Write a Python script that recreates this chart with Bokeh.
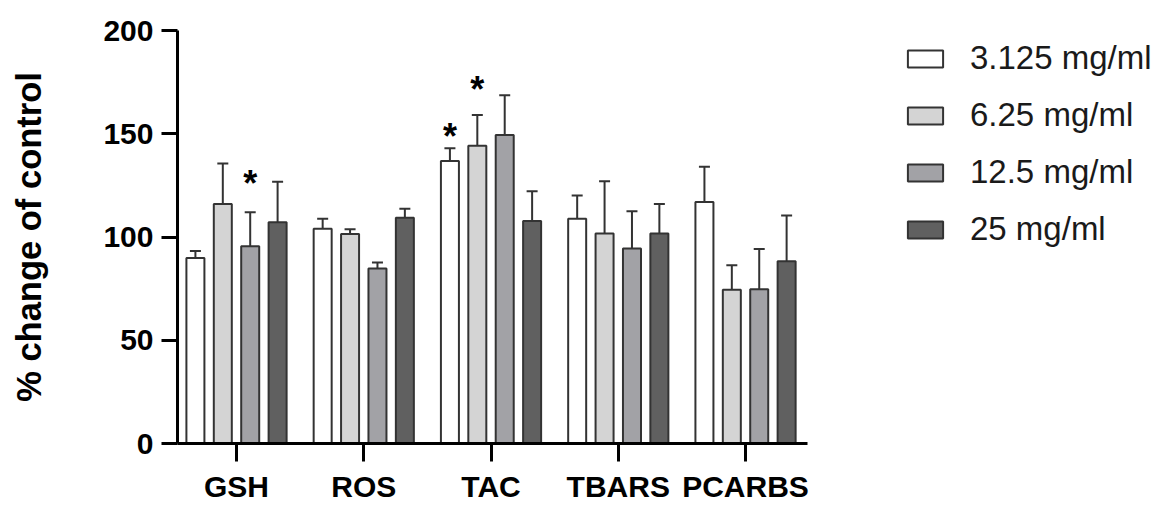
from bokeh.plotting import figure
from bokeh.models import FixedTicker, Legend, LegendItem, ColumnDataSource, Range1d
from bokeh.layouts import row
from bokeh.embed import file_html
from bokeh.resources import INLINE
from bokeh.core.properties import value

categories = ["GSH", "ROS", "TAC", "TBARS", "PCARBS"]
series_names = ["3.125 mg/ml", "6.25 mg/ml", "12.5 mg/ml", "25 mg/ml"]
series_colors = ["#ffffff", "#d4d4d4", "#a2a2a6", "#606060"]

mean_3125 = [89.8, 104.0, 136.8, 108.8, 116.9]
err_3125 = [3.4, 4.8, 6.2, 11.3, 17.1]
mean_625 = [116.0, 101.5, 144.2, 101.7, 74.4]
err_625 = [19.6, 2.2, 14.9, 25.3, 11.9]
mean_125 = [95.5, 84.7, 149.4, 94.4, 74.7]
err_125 = [16.5, 3.0, 19.3, 18.1, 19.5]
mean_25 = [107.2, 109.3, 107.7, 101.7, 88.2]
err_25 = [19.6, 4.4, 14.4, 14.3, 22.2]

# significance stars: category index, series index, centre value
star_cat = [0, 2, 2]
star_series = [2, 0, 1]
star_y = [125.9, 148.9, 171.2]

y_ticks = [0, 50, 100, 150, 200]

means = [mean_3125, mean_625, mean_125, mean_25]
errs = [err_3125, err_625, err_125, err_25]

pitch = 0.2153
bar_w = 0.1415
offsets = [(j - 1.5) * pitch for j in range(4)]

FONT = "Liberation Sans"
EDGE = "#333333"

p = figure(width=817, height=505, x_range=(-0.4637, 4.487), y_range=(0, 200),
           output_backend="svg", toolbar_location=None,
           min_border_left=177, min_border_right=10, min_border_top=30, min_border_bottom=60)

sources = []
for j in range(4):
    xs = [i + offsets[j] for i in range(len(categories))]
    tops = [m + e for m, e in zip(means[j], errs[j])]
    src = ColumnDataSource(dict(x=xs, top=means[j], etop=tops))
    sources.append(src)
    p.segment(x0="x", y0="top", x1="x", y1="etop", source=src, line_color=EDGE, line_width=2)
    p.scatter(x="x", y="etop", source=src, marker="dash", size=11, line_color=EDGE, line_width=2)
    p.vbar(x="x", top="top", bottom=0, width=bar_w, source=src,
           fill_color=series_colors[j], line_color=EDGE, line_width=2)

sx = [c + offsets[s] for c, s in zip(star_cat, star_series)]
p.text(x=sx, y=star_y, text=["*"] * len(sx), text_align="center", text_baseline="middle",
       text_font=value(FONT), text_font_style="bold", text_font_size="36px", text_color="#000000")

p.xgrid.visible = False
p.ygrid.visible = False
p.outline_line_color = None

p.yaxis.ticker = FixedTicker(ticks=y_ticks)
p.yaxis.minor_tick_line_color = None
p.yaxis.major_tick_in = 0
p.yaxis.major_tick_out = 16
p.yaxis.major_tick_line_width = 3
p.yaxis.axis_line_width = 3
p.yaxis.major_label_standoff = 8
p.yaxis.major_label_text_font = FONT
p.yaxis.major_label_text_font_style = "bold"
p.yaxis.major_label_text_font_size = "30px"
p.yaxis.major_label_text_color = "#000000"
p.yaxis.axis_label = "% change of control"
p.yaxis.axis_label_text_font = FONT
p.yaxis.axis_label_text_font_style = "bold"
p.yaxis.axis_label_text_font_size = "34.5px"
p.yaxis.axis_label_text_color = "#000000"
p.yaxis.axis_label_standoff = 52

p.xaxis.ticker = FixedTicker(ticks=list(range(len(categories))))
p.xaxis.major_label_overrides = {i: c for i, c in enumerate(categories)}
p.xaxis.minor_tick_line_color = None
p.xaxis.major_tick_in = 0
p.xaxis.major_tick_out = 18
p.xaxis.major_tick_line_width = 3
p.xaxis.axis_line_width = 3
p.xaxis.major_label_standoff = 8
p.xaxis.major_label_text_font = FONT
p.xaxis.major_label_text_font_style = "bold"
p.xaxis.major_label_text_font_size = "30px"
p.xaxis.major_label_text_color = "#000000"

# legend panel: hidden copies of the bar renderers, used only for the legend swatches
lp = figure(width=348, height=505, x_range=Range1d(0, 1), y_range=Range1d(0, 1),
            x_axis_type=None, y_axis_type=None,
            output_backend="svg", toolbar_location=None,
            min_border_left=0, min_border_right=0, min_border_top=30, min_border_bottom=60)
lp.grid.visible = False
lp.outline_line_color = None
items = []
for name, col, src in zip(series_names, series_colors, sources):
    r = lp.vbar(x="x", top="top", bottom=0, width=bar_w, source=src,
                fill_color=col, line_color=EDGE, line_width=2)
    r.visible = False
    items.append(LegendItem(label=name, renderers=[r]))

legend = Legend(items=items, location=(86, 195), orientation="vertical")
legend.glyph_width = 44
legend.glyph_height = 21
legend.label_standoff = 23
legend.spacing = 19
legend.padding = 0
legend.margin = 0
legend.border_line_color = None
legend.background_fill_alpha = 0
legend.inactive_fill_alpha = 0
legend.label_text_font = FONT
legend.label_text_font_size = "33px"
legend.label_text_color = "#1a1a1a"
lp.add_layout(legend, "center")

layout = row(p, lp)
open("out.html", "w").write(file_html(layout, INLINE))
